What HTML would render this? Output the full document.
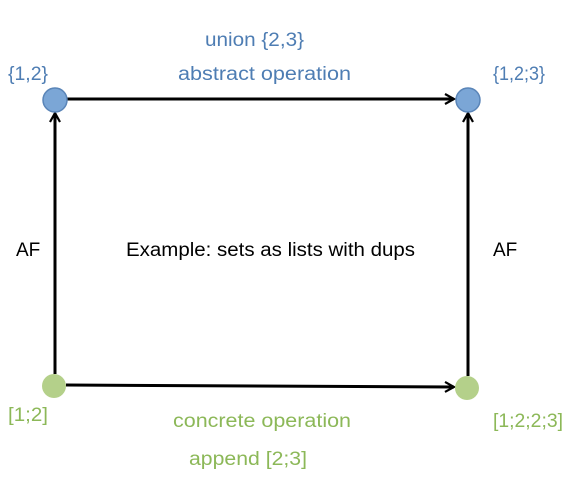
<!DOCTYPE html>
<html><head><style>body{margin:0;background:#fff}</style></head><body>
<svg width="571" height="481" xmlns="http://www.w3.org/2000/svg" font-family="Liberation Sans, sans-serif" font-size="19">
<defs><marker id="a" markerWidth="12" markerHeight="12" refX="10" refY="6" orient="auto" markerUnits="userSpaceOnUse"><path d="M1,1 L10,6 L1,11" fill="none" stroke="#000" stroke-width="2.2"/></marker></defs>
<g stroke="#000" stroke-width="3" fill="none">
<line x1="66" y1="99" x2="454" y2="99" marker-end="url(#a)"/>
<line x1="66" y1="385" x2="454" y2="387" marker-end="url(#a)"/>
<line x1="55" y1="374" x2="55" y2="113" marker-end="url(#a)"/>
<line x1="468" y1="376" x2="468" y2="113" marker-end="url(#a)"/>
</g>
<circle cx="55" cy="100" r="12" fill="#7ba6d6" stroke="#5a85b8" stroke-width="1.5"/>
<circle cx="468" cy="100" r="12" fill="#7ba6d6" stroke="#5a85b8" stroke-width="1.5"/>
<circle cx="54" cy="386" r="12" fill="#b4d08a"/>
<circle cx="467" cy="388" r="12" fill="#b4d08a"/>
<g fill="#4e7db3">
<text x="205" y="46" textLength="99" lengthAdjust="spacingAndGlyphs">union {2,3}</text>
<text x="178" y="80" textLength="173" lengthAdjust="spacingAndGlyphs">abstract operation</text>
<text x="8" y="80" textLength="40" lengthAdjust="spacingAndGlyphs">{1,2}</text>
<text x="493" y="80" textLength="52" lengthAdjust="spacingAndGlyphs">{1,2;3}</text>
</g>
<g fill="#8cb858">
<text x="8" y="421" textLength="40" lengthAdjust="spacingAndGlyphs">[1;2]</text>
<text x="173" y="427" textLength="178" lengthAdjust="spacingAndGlyphs">concrete operation</text>
<text x="189" y="465" textLength="118" lengthAdjust="spacingAndGlyphs">append [2;3]</text>
<text x="493" y="427" textLength="70" lengthAdjust="spacingAndGlyphs">[1;2;2;3]</text>
</g>
<g fill="#000">
<text x="16" y="256">AF</text>
<text x="493" y="256">AF</text>
<text x="126" y="256" textLength="289" lengthAdjust="spacingAndGlyphs">Example: sets as lists with dups</text>
</g>
</svg>
</body></html>
